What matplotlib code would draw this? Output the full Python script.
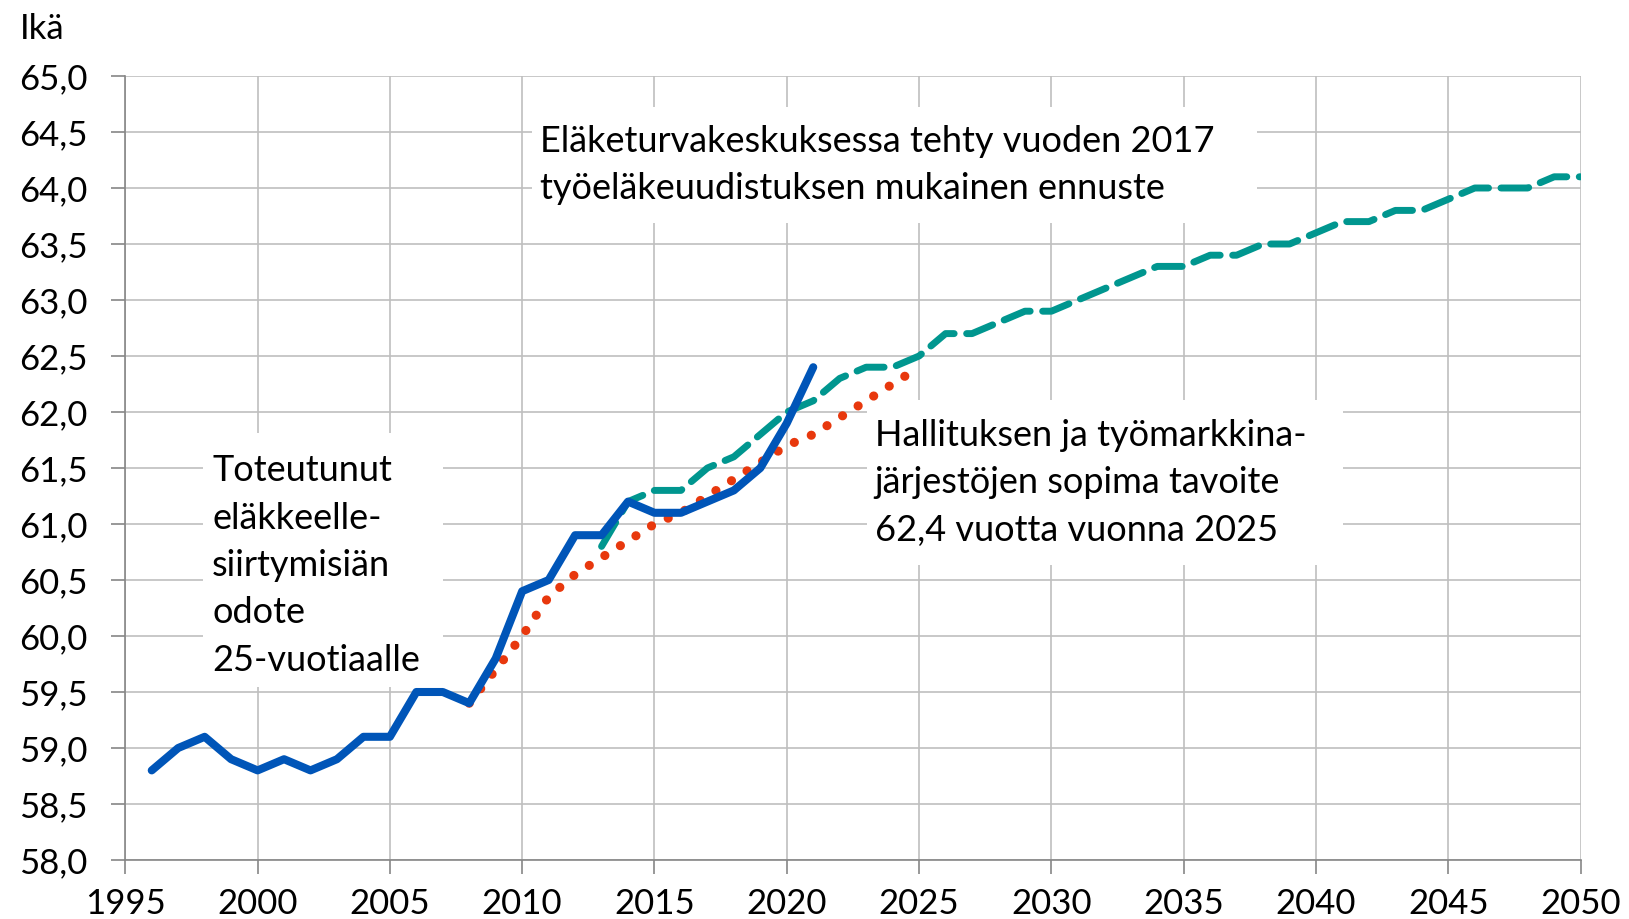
import matplotlib
matplotlib.use("Agg")
import matplotlib.pyplot as plt
from matplotlib.patches import Rectangle
from matplotlib.ticker import FuncFormatter, MultipleLocator

# Toteutunut eläkkeellesiirtymisiän odote 25-vuotiaalle
years_actual = list(range(1996, 2022))
actual = [58.8, 59.0, 59.1, 58.9, 58.8, 58.9, 58.8, 58.9, 59.1, 59.1,
          59.5, 59.5, 59.4, 59.8, 60.4, 60.5, 60.9, 60.9, 61.2, 61.1,
          61.1, 61.2, 61.3, 61.5, 61.9, 62.4]

# Hallituksen ja työmarkkinajärjestöjen tavoite
years_target = list(range(2008, 2026))
target = [59.4, 59.7, 60.0, 60.35, 60.55, 60.7, 60.85, 61.0, 61.1, 61.25,
          61.4, 61.55, 61.7, 61.8, 61.95, 62.1, 62.25, 62.4]

# ETK:n ennuste (2017 uudistus)
years_forecast = list(range(2013, 2051))
forecast = [60.8, 61.2, 61.3, 61.3, 61.5, 61.6, 61.8, 62.0, 62.1, 62.3,
            62.4, 62.4, 62.5, 62.7, 62.7, 62.8, 62.9, 62.9, 63.0, 63.1,
            63.2, 63.3, 63.3, 63.4, 63.4, 63.5, 63.5, 63.6, 63.7, 63.7,
            63.8, 63.8, 63.9, 64.0, 64.0, 64.0, 64.1, 64.1]

plt.rcParams["font.family"] = ["Lato", "DejaVu Sans"]

fig = plt.figure(figsize=(16.29, 9.19), dpi=100)
ax = fig.add_axes([0.0769, 0.0642, 0.8934, 0.8531])

# white text boxes (covering grid like in the original)
for x0, y0, x1, y1 in [(0.0534, 0.2207, 0.2183, 0.5446),
                       (0.2794, 0.8125, 0.7776, 0.9605),
                       (0.5096, 0.3763, 0.8367, 0.5867)]:
    ax.add_patch(Rectangle((x0, y0), x1 - x0, y1 - y0, transform=ax.transAxes,
                           facecolor="white", edgecolor="none", zorder=1.5))

ax.plot(years_target, target, color="#E8380D", linewidth=6.6,
        linestyle=(0, (0.01, 2.0)), dash_capstyle="round", zorder=3)
ax.plot(years_forecast, forecast, color="#00968F", linewidth=5,
        linestyle=(0, (4, 1.8)), dash_capstyle="round", zorder=3)
ax.plot(years_actual, actual, color="#0055B8", linewidth=5.8,
        solid_capstyle="round", solid_joinstyle="round", zorder=4)

ax.set_xlim(1995, 2050)
ax.set_ylim(58, 65)
ax.xaxis.set_major_locator(MultipleLocator(5))
ax.yaxis.set_major_locator(MultipleLocator(0.5))
ax.yaxis.set_major_formatter(FuncFormatter(lambda v, p: f"{v:.1f}".replace(".", ",")))

ax.grid(True, color="#BFBFBF", linewidth=1.2, zorder=1)
ax.set_axisbelow(True)
for s in ["top", "right"]:
    ax.spines[s].set_visible(False)
for s in ["left", "bottom"]:
    ax.spines[s].set_color("#868686")
    ax.spines[s].set_linewidth(1.2)
ax.tick_params(axis="y", length=10, width=1.2, color="#868686", pad=17,
               labelsize=25)
ax.tick_params(axis="x", length=10, width=1.2, color="#868686", pad=10,
               labelsize=25)

fig.text(20 / 1629, 1 - 39 / 919, "Ikä", fontsize=25, va="baseline")

ax.text(0.0596, 0.3756,
        "Toteutunut\neläkkeelle-\nsiirtymisiän\nodote\n25-vuotiaalle",
        transform=ax.transAxes, fontsize=26, va="center", ha="left",
        linespacing=1.53, zorder=5)
ax.text(0.285, 0.8865,
        "Eläketurvakeskuksessa tehty vuoden 2017\n"
        "työeläkeuudistuksen mukainen ennuste",
        transform=ax.transAxes, fontsize=26, va="center", ha="left",
        linespacing=1.53, zorder=5)
ax.text(0.515, 0.4809,
        "Hallituksen ja työmarkkina-\njärjestöjen sopima tavoite\n"
        "62,4 vuotta vuonna 2025",
        transform=ax.transAxes, fontsize=26, va="center", ha="left",
        linespacing=1.53, zorder=5)

fig.savefig("out.png", dpi=100)
